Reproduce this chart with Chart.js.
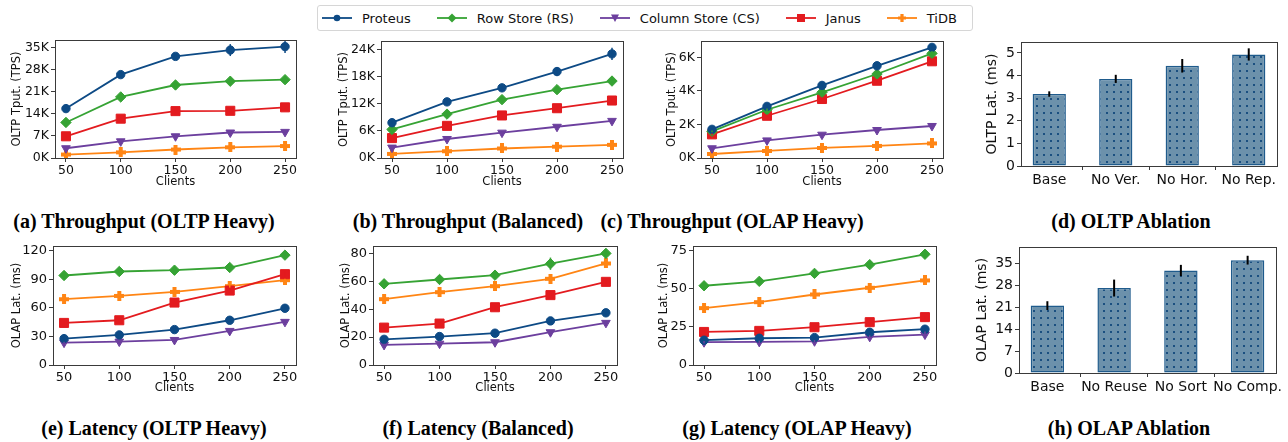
<!DOCTYPE html>
<html lang="en">
<head>
<meta charset="UTF-8">
<title>Proteus evaluation</title>
<style>
  body { margin: 0; background: #fff; width: 1288px; height: 442px; position: relative; overflow: hidden; font-family: "DejaVu Sans", sans-serif; }
  canvas { position: absolute; }
  .cap { position: absolute; font-family: "Liberation Serif", serif; font-weight: bold; font-size: 20px; transform: translate(-50%, -50%); white-space: nowrap; color: #000; }
  .legend { position: absolute; left: 317px; top: 5px; width: 656px; height: 26px; border: 1px solid #d6d6d6; border-radius: 3px; box-sizing: border-box; display: flex; align-items: center; padding-left: 4px; font-size: 13px; color: #111; white-space: nowrap; }
  .legend .item { display: flex; align-items: center; margin-right: 26px; flex-shrink: 0; }
  .legend svg { margin-right: 10px; flex-shrink: 0; }
</style>
</head>
<body>
<div class="legend" id="legend"></div>

<canvas id="ca"></canvas>
<canvas id="cb"></canvas>
<canvas id="cc"></canvas>
<canvas id="cd"></canvas>
<canvas id="ce"></canvas>
<canvas id="cf"></canvas>
<canvas id="cg"></canvas>
<canvas id="ch"></canvas>

<div class="cap" style="left:144px; top:221px">(a) Throughput (OLTP Heavy)</div>
<div class="cap" style="left:468px; top:221px">(b) Throughput (Balanced)</div>
<div class="cap" style="left:732px; top:221px">(c) Throughput (OLAP Heavy)</div>
<div class="cap" style="left:1131px; top:221px">(d) OLTP Ablation</div>
<div class="cap" style="left:154px; top:428px">(e) Latency (OLTP Heavy)</div>
<div class="cap" style="left:478px; top:428px">(f) Latency (Balanced)</div>
<div class="cap" style="left:797px; top:428px">(g) Latency (OLAP Heavy)</div>
<div class="cap" style="left:1129px; top:428px">(h) OLAP Ablation</div>

<script src="https://cdn.jsdelivr.net/npm/chart.js"></script>
<script>
// x values shared by all line panels
const clients = [50, 100, 150, 200, 250];
// series order: Proteus, Row Store, Column Store, Janus, TiDB
const seriesNames = ['Proteus', 'Row Store (RS)', 'Column Store (CS)', 'Janus', 'TiDB'];
const seriesColors = ['#0d4a85', '#36a334', '#6c3f9e', '#e31b1f', '#ff8514'];

// OLTP throughput (TPS)
const tputOltpHeavy = [
  [15700, 26500, 32300, 34300, 35400],
  [11300, 19400, 23200, 24400, 24900],
  [3100, 5300, 6900, 8100, 8300],
  [6900, 12500, 14900, 15000, 16100],
  [1100, 1800, 2700, 3400, 3800]
];
const tputOltpHeavyErr = [
  [400, 600, 500, 1900, 2000],
  [300, 400, 400, 500, 400],
  [0, 0, 0, 0, 0],
  [300, 300, 300, 400, 300],
  [0, 0, 0, 0, 0]
];
const tputBalanced = [
  [7800, 12400, 15500, 19100, 23000],
  [6300, 9700, 12900, 15100, 17000],
  [2300, 4200, 5600, 6900, 8200],
  [4400, 7100, 9400, 11000, 12700],
  [900, 1500, 2100, 2500, 2900]
];
const tputBalancedErr = [
  [300, 400, 400, 1000, 1350],
  [200, 300, 300, 400, 400],
  [0, 0, 0, 0, 0],
  [200, 200, 300, 300, 300],
  [0, 0, 0, 0, 0]
];
const tputOlapHeavy = [
  [1710, 3080, 4330, 5500, 6600],
  [1590, 2880, 3920, 5010, 6240],
  [580, 1050, 1390, 1670, 1910],
  [1410, 2520, 3520, 4610, 5770],
  [240, 420, 600, 720, 870]
];
const tputOlapHeavyErr = [
  [60, 80, 100, 120, 150],
  [50, 70, 90, 100, 150],
  [0, 0, 0, 0, 0],
  [50, 70, 90, 100, 150],
  [0, 0, 0, 0, 0]
];

// OLAP latency (ms)
const latOltpHeavy = [
  [27.7, 31.6, 37.2, 47.0, 59.6],
  [94.0, 98.2, 99.6, 102.4, 115.4],
  [23.5, 24.6, 26.3, 35.8, 45.3],
  [44.2, 47.0, 65.6, 78.2, 95.4],
  [69.1, 72.6, 76.8, 82.8, 89.1]
];
const latOltpHeavyErr = [
  [1, 1, 1, 1, 1.5],
  [1, 1, 1, 1.5, 2],
  [1, 1, 1, 1, 1.5],
  [1, 1, 1.5, 2, 4],
  [1, 1, 1, 1.5, 1.5]
];
const latBalanced = [
  [18.4, 20.4, 22.8, 31.6, 37.4],
  [58.2, 61.3, 64.4, 72.6, 80.0],
  [14.4, 15.3, 16.3, 23.5, 30.2],
  [26.8, 29.7, 41.4, 50.1, 59.6],
  [47.2, 52.2, 56.5, 61.8, 72.8]
];
const latBalancedErr = [
  [0.8, 0.8, 0.8, 1, 1],
  [1, 1, 1.5, 4.4, 3.4],
  [0.8, 0.8, 0.8, 1, 1],
  [1, 1, 1.5, 1.5, 1.5],
  [1, 1, 1, 1, 1.5]
];
const latOlapHeavy = [
  [16.2, 17.5, 17.9, 21.4, 23.4],
  [51.8, 54.7, 59.9, 65.6, 72.4],
  [14.9, 15.1, 15.5, 18.4, 19.9],
  [21.6, 22.3, 24.7, 28.0, 31.3],
  [37.2, 41.1, 46.1, 50.5, 55.3]
];
const latOlapHeavyErr = [
  [0.8, 0.8, 0.8, 1, 1],
  [1, 1.5, 2.2, 1.5, 2.5],
  [0.8, 0.8, 0.8, 1, 2],
  [1, 1, 1, 1, 1],
  [0.8, 0.8, 1, 1, 1]
];

// ablations
const oltpAblationLabels = ['Base', 'No Ver.', 'No Hor.', 'No Rep.'];
const oltpAblationMs = [3.18, 3.85, 4.43, 4.93];
const oltpAblationErr = [0.12, 0.18, 0.3, 0.27];
const olapAblationLabels = ['Base', 'No Reuse', 'No Sort', 'No Comp.'];
const olapAblationMs = [21.5, 27.1, 32.7, 36.0];
const olapAblationErr = [1.4, 2.7, 1.8, 1.4];

Chart.defaults.font.family = 'DejaVu Sans';
Chart.defaults.color = '#111';

function plusMarker(color, size) {
  const c = document.createElement('canvas');
  c.width = size; c.height = size;
  const g = c.getContext('2d');
  const w = Math.round(size * 0.4), o = (size - w) / 2;
  g.fillStyle = color;
  g.fillRect(o, 0, w, size);
  g.fillRect(0, o, size, w);
  return c;
}

const markerStyles = [
  { pointStyle: 'circle', pointRadius: 4.2, rotation: 0 },
  { pointStyle: 'rectRot', pointRadius: 5.2, rotation: 0 },
  { pointStyle: 'triangle', pointRadius: 5, rotation: 180 },
  { pointStyle: 'rect', pointRadius: 6.4, rotation: 0 },
  { pointStyle: plusMarker(seriesColors[4], 10), pointRadius: 5, rotation: 0 }
];

// frame on all four sides + vertical error bars
const frameAndErrors = {
  id: 'frameAndErrors',
  afterDatasetsDraw(chart) {
    const ctx = chart.ctx, ys = chart.scales.y;
    chart.data.datasets.forEach((ds, di) => {
      if (!ds.err) return;
      const meta = chart.getDatasetMeta(di);
      ctx.save();
      ctx.strokeStyle = ds.errColor || ds.borderColor;
      ctx.lineWidth = ds.errWidth || 1.5;
      meta.data.forEach((el, i) => {
        const e = ds.err[i];
        if (!e) return;
        const v = ds.data[i].y;
        ctx.beginPath();
        ctx.moveTo(el.x, ys.getPixelForValue(v - e));
        ctx.lineTo(el.x, ys.getPixelForValue(v + e));
        ctx.stroke();
      });
      ctx.restore();
    });
    const a = chart.chartArea;
    ctx.save();
    ctx.strokeStyle = '#3a3a3a';
    ctx.lineWidth = 1;
    ctx.strokeRect(Math.round(a.left) + 0.5, Math.round(a.top) + 0.5,
      Math.round(a.right - a.left), Math.round(a.bottom - a.top));
    ctx.restore();
  }
};

const PAD_T = 10, PAD_R = 14;

function place(id, box) {
  const cv = document.getElementById(id);
  const w = box.r - box.l + box.yw + PAD_R;
  const h = box.b - box.t + PAD_T + box.xh;
  cv.width = w; cv.height = h;
  cv.style.left = (box.l - box.yw) + 'px';
  cv.style.top = (box.t - PAD_T) + 'px';
  return cv;
}

function axisGrid() {
  return { display: true, drawOnChartArea: false, drawTicks: true, tickLength: 4, color: '#3a3a3a' };
}

function fixY(w) {
  return s => { s.width = w; s.paddingTop = 0; s.paddingBottom = 0; s.paddingLeft = 0; s.paddingRight = 0; };
}
function fixX(h) {
  return s => { s.height = h; s.paddingTop = 0; s.paddingBottom = 0; s.paddingLeft = 0; s.paddingRight = 0; };
}
// fixed tick positions from first, last and step
function setTicks(first, last, step) {
  return s => {
    const t = [];
    for (let v = first; v <= last + 1e-9; v += step) t.push({ value: Math.round(v * 1000) / 1000 });
    s.ticks = t;
  };
}

function lineChart(id, box, values, errs, yMax, yStep, yTitle, inK) {
  const cv = place(id, box);
  const datasets = values.map((vals, s) => ({
    label: seriesNames[s],
    data: vals.map((v, i) => ({ x: clients[i], y: v })),
    err: errs[s],
    borderColor: seriesColors[s],
    backgroundColor: seriesColors[s],
    pointBackgroundColor: seriesColors[s],
    pointBorderColor: seriesColors[s],
    pointBorderWidth: 1,
    pointStyle: markerStyles[s].pointStyle,
    pointRadius: markerStyles[s].pointRadius,
    rotation: markerStyles[s].rotation,
    borderWidth: 1.8,
    tension: 0
  }));
  return new Chart(cv, {
    type: 'line',
    data: { datasets },
    plugins: [frameAndErrors],
    options: {
      responsive: false, animation: false,
      layout: { padding: { top: PAD_T, right: PAD_R, left: 0, bottom: 0 } },
      plugins: { legend: { display: false }, tooltip: { enabled: false } },
      scales: {
        x: {
          type: 'linear', min: 40, max: 260,
          border: { display: false }, grid: axisGrid(),
          ticks: { maxRotation: 0, autoSkip: false, padding: 1, font: { size: box.tick } },
          afterBuildTicks: setTicks(clients[0], clients[clients.length - 1], 50),
          title: { display: true, text: 'Clients', font: { size: box.title }, padding: 0 },
          afterFit: fixX(box.xh)
        },
        y: {
          min: 0, max: yMax,
          border: { display: false }, grid: axisGrid(),
          ticks: { autoSkip: false, padding: 2, font: { size: box.tick },
            callback: v => inK ? (v / 1000) + 'K' : v },
          afterBuildTicks: setTicks(0, yMax, yStep),
          title: { display: true, text: yTitle, font: { size: box.title }, padding: 0 },
          afterFit: fixY(box.yw)
        }
      }
    }
  });
}

function dotPattern() {
  const c = document.createElement('canvas');
  c.width = 7; c.height = 7;
  const g = c.getContext('2d');
  g.fillStyle = '#6c91ab';
  g.fillRect(0, 0, 7, 7);
  g.fillStyle = '#1a4f80';
  g.fillRect(3, 3, 2, 2);
  return g.createPattern(c, 'repeat');
}

function barChart(id, box, labels, values, errs, yMax, yStep, yTitle) {
  const cv = place(id, box);
  return new Chart(cv, {
    type: 'bar',
    data: {
      datasets: [{
        data: values.map((v, i) => ({ x: i, y: v })),
        err: errs, errColor: '#000', errWidth: 2,
        backgroundColor: dotPattern(),
        borderColor: '#1f5b8c',
        borderWidth: 1.5,
        borderSkipped: false,
        categoryPercentage: 1,
        barPercentage: 0.5
      }]
    },
    plugins: [frameAndErrors],
    options: {
      responsive: false, animation: false,
      layout: { padding: { top: PAD_T, right: PAD_R, left: 0, bottom: 0 } },
      plugins: { legend: { display: false }, tooltip: { enabled: false } },
      scales: {
        x: {
          type: 'linear', min: -0.425, max: labels.length - 0.575, offset: false,
          border: { display: false }, grid: axisGrid(),
          ticks: { maxRotation: 0, autoSkip: false, padding: 2,
            font: { size: box.tick }, callback: v => labels[v] },
          afterBuildTicks: setTicks(0, labels.length - 1, 1),
          afterFit: fixX(box.xh)
        },
        y: {
          min: 0, max: yMax,
          border: { display: false }, grid: axisGrid(),
          ticks: { autoSkip: false, padding: 2, font: { size: box.tick } },
          afterBuildTicks: setTicks(0, yMax, yStep),
          title: { display: true, text: yTitle, font: { size: box.title }, padding: 0 },
          afterFit: fixY(box.yw)
        }
      }
    }
  });
}

lineChart('ca', { l: 55, r: 296, t: 40, b: 158, yw: 45, xh: 31, tick: 12.5, title: 11.5 },
  tputOltpHeavy, tputOltpHeavyErr, 37500, 7000, 'OLTP Tput. (TPS)', true);
lineChart('cb', { l: 381, r: 623, t: 41, b: 158, yw: 44, xh: 31, tick: 12.5, title: 11.5 },
  tputBalanced, tputBalancedErr, 25850, 6000, 'OLTP Tput. (TPS)', true);
lineChart('cc', { l: 701, r: 943, t: 41, b: 158, yw: 36, xh: 31, tick: 12.5, title: 11.5 },
  tputOlapHeavy, tputOlapHeavyErr, 6980, 2000, 'OLTP Tput. (TPS)', true);
barChart('cd', { l: 1021, r: 1277, t: 42, b: 166, yw: 37, xh: 24, tick: 14, title: 14 },
  oltpAblationLabels, oltpAblationMs, oltpAblationErr, 5.48, 1, 'OLTP Lat. (ms)');

lineChart('ce', { l: 53, r: 296, t: 246, b: 365, yw: 43, xh: 30, tick: 13, title: 11.5 },
  latOltpHeavy, latOltpHeavyErr, 125, 30, 'OLAP Lat. (ms)', false);
lineChart('cf', { l: 373, r: 617, t: 246, b: 365, yw: 34, xh: 30, tick: 13, title: 11.5 },
  latBalanced, latBalancedErr, 85.3, 20, 'OLAP Lat. (ms)', false);
lineChart('cg', { l: 693, r: 936, t: 246, b: 365, yw: 36, xh: 30, tick: 13, title: 11.5 },
  latOlapHeavy, latOlapHeavyErr, 77.8, 25, 'OLAP Lat. (ms)', false);
barChart('ch', { l: 1019, r: 1276, t: 247, b: 373, yw: 45, xh: 24, tick: 14, title: 14 },
  olapAblationLabels, olapAblationMs, olapAblationErr, 40.2, 7, 'OLAP Lat. (ms)');

// shared legend
const legendShapes = [
  c => `<circle cx="15" cy="6" r="3.3" fill="${c}"/>`,
  c => `<polygon points="15,1.5 19.5,6 15,10.5 10.5,6" fill="${c}"/>`,
  c => `<polygon points="11,2.5 19,2.5 15,10" fill="${c}"/>`,
  c => `<rect x="11" y="2" width="8" height="8" fill="${c}"/>`,
  c => `<path d="M13.4 2h3.2v2.4H19v3.2h-2.4V10h-3.2V7.6H11V4.4h2.4z" fill="${c}"/>`
];
const legend = document.getElementById('legend');
seriesNames.forEach((name, s) => {
  const c = seriesColors[s];
  const item = document.createElement('div');
  item.className = 'item';
  item.innerHTML = `<svg width="30" height="12"><line x1="0" y1="6" x2="30" y2="6" stroke="${c}" stroke-width="1.8"/>${legendShapes[s](c)}</svg><span>${name}</span>`;
  legend.appendChild(item);
});
</script>
</body>
</html>
